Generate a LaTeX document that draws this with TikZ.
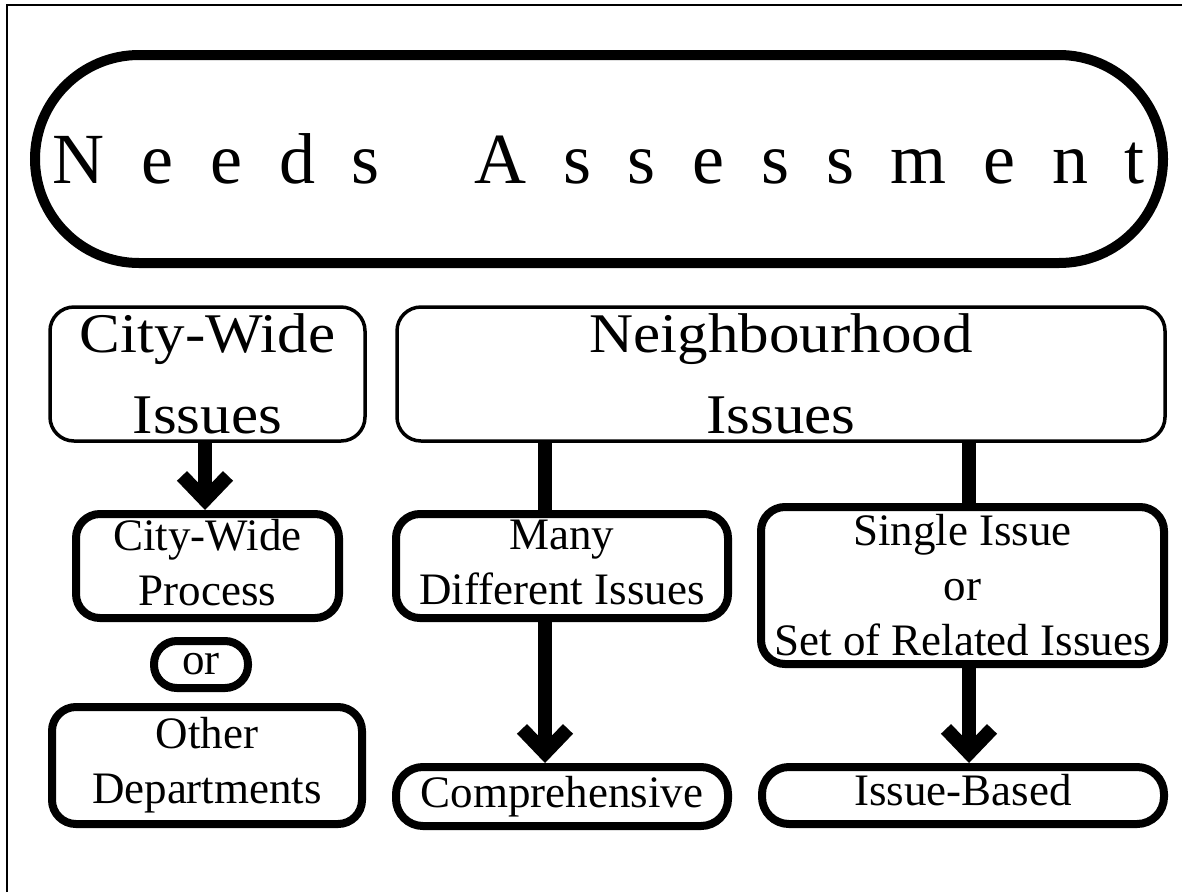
\documentclass[tikz,border=0pt]{standalone}
\usepackage{fontspec}
\setmainfont{Liberation Serif}
\newfontfamily\widefont{Liberation Serif}[FakeStretch=1.09]
\usetikzlibrary{arrows.meta}
\begin{document}
\begin{tikzpicture}[x=1pt,y=-1pt,
  thinbox/.style={draw, line width=3.5pt, rounded corners=24pt, align=center, inner sep=0pt,
    font=\widefont\fontsize{56}{81}\selectfont},
  thickbox/.style={draw, line width=8pt, rounded corners=24pt, align=center, inner sep=0pt,
    font=\fontsize{45}{55}\selectfont},
  pillbox/.style={thickbox, rounded corners=27pt},
  link/.style={line width=14pt},
  bigarrow/.style={line width=14pt, -{Straight Barb[length=24pt,width=46pt]}}
]
\useasboundingbox (0,0) rectangle (1182,892);
\fill[white] (0,0) rectangle (1182,892);

% page frame
\coordinate (fb) at (7,892);
\coordinate (fc) at (7,5);
\coordinate (fr) at (1182,5);
\draw[line width=2.5pt] (fb) -- (fc) -- (fr);

% heading
\node[draw, line width=10pt, rounded corners=104pt, minimum width=1128pt, minimum height=208pt,
  inner sep=0pt, font=\fontsize{72}{80}\selectfont\addfontfeature{LetterSpace=51}]
  (title) at (599,159) {Needs\hspace{40pt} Assessment};

% second row
\node[thinbox, minimum width=315pt, minimum height=134pt] (cwi) at (207.5,374)
  {City-Wide\\Issues};
\node[thinbox, minimum width=768pt, minimum height=134pt] (nbh) at (781,374)
  {Neighbourhood\\Issues};

% third row
\node[thickbox, minimum width=263pt, minimum height=104pt, text depth=8pt] (cwp) at (207.5,566)
  {City-Wide\\Process};
\node[thickbox, rounded corners=23pt, minimum width=94pt, minimum height=47pt] (or) at (201,664.5)
  {or};
\node[thickbox, minimum width=310pt, minimum height=117pt] (od) at (207,765.5)
  {Other\\Departments};
\node[thickbox, minimum width=332pt, minimum height=104pt, text depth=8pt] (many) at (562,566)
  {Many\\Different Issues};
\node[thickbox, minimum width=403pt, minimum height=157pt] (single) at (962.5,585.5)
  {Single Issue\\or\\Set of Related Issues};

% bottom row
\node[pillbox, minimum width=332pt, minimum height=59pt] (comp) at (562,796.5)
  {Comprehensive};
\node[pillbox, minimum width=402pt, minimum height=57pt, text depth=12pt] (ib) at (963,795.5)
  {Issue-Based};

% connectors
\coordinate (mx) at (545,0);
\coordinate (sx) at (969,0);
\coordinate (cx) at (205,0);
\draw[bigarrow] (cwi.south -| cx) -- (cwp.north -| cx);
\draw[link] (nbh.south -| mx) -- (many.north -| mx);
\draw[bigarrow] (many.south -| mx) -- (comp.north -| mx);
\draw[link] (nbh.south -| sx) -- (single.north -| sx);
\draw[bigarrow] (single.south -| sx) -- (ib.north -| sx);
\end{tikzpicture}
\end{document}
